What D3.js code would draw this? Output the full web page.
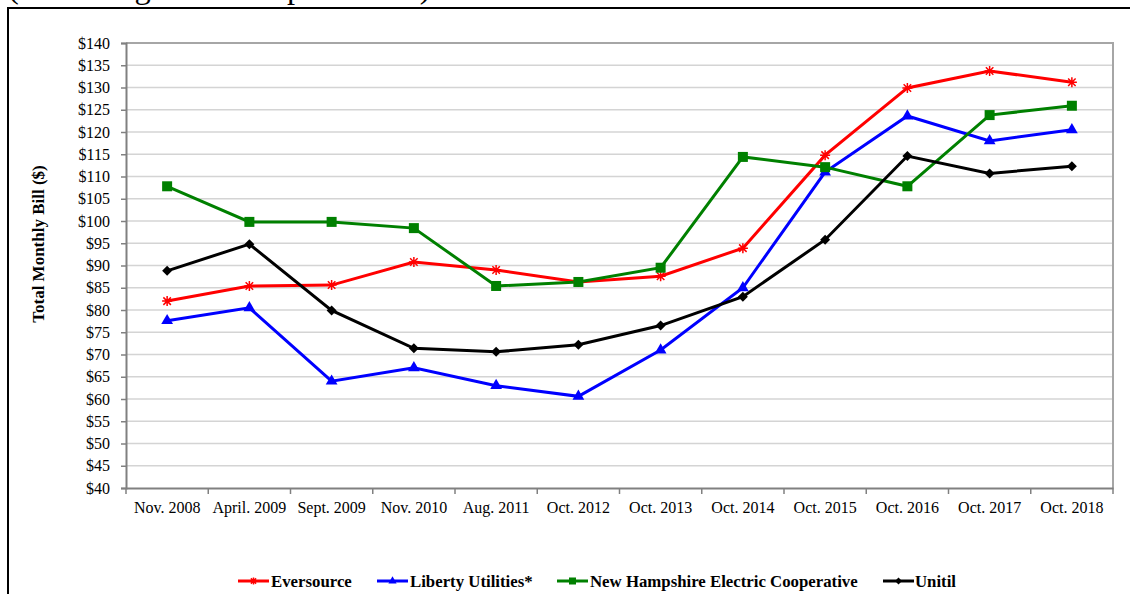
<!DOCTYPE html>
<html>
<head>
<meta charset="utf-8">
<script src="https://cdn.jsdelivr.net/npm/d3@7"></script>
<style>
  body { margin: 0; background: #fff; }
  svg { display: block; font-family: "Liberation Serif", "Times New Roman", serif; }
</style>
</head>
<body>
<div id="chart"></div>
<script>
const categories = ["Nov. 2008", "April. 2009", "Sept. 2009", "Nov. 2010", "Aug. 2011", "Oct. 2012",
  "Oct. 2013", "Oct. 2014", "Oct. 2015", "Oct. 2016", "Oct. 2017", "Oct. 2018"];

const eversource = [82.0, 85.4, 85.6, 90.8, 89.0, 86.3, 87.6, 93.9, 114.8, 129.9, 133.7, 131.2];
const liberty    = [77.6, 80.5, 64.0, 67.0, 63.0, 60.6, 71.0, 85.0, 111.0, 123.6, 118.0, 120.5];
const nhec       = [107.8, 99.8, 99.8, 98.4, 85.4, 86.3, 89.5, 114.4, 112.1, 107.8, 123.8, 125.9];
const unitil     = [88.8, 94.8, 79.9, 71.4, 70.6, 72.2, 76.5, 83.0, 95.8, 114.6, 110.7, 112.3];

const yTicks = d3.range(40, 141, 5);

const series = [
  {name: "Eversource", values: eversource, color: "#ff0000", marker: "star"},
  {name: "Liberty Utilities*", values: liberty, color: "#0000ff", marker: "triangle"},
  {name: "New Hampshire Electric Cooperative", values: nhec, color: "#008000", marker: "square"},
  {name: "Unitil", values: unitil, color: "#000000", marker: "diamond"}
];

const W = 1130, H = 594;
const plot = {left: 126, right: 1113, top: 43, bottom: 488};

const svg = d3.select("#chart").append("svg")
  .attr("width", W)
  .attr("height", H);

// outer frame and the heading, cut off at the top like the source
svg.append("text")
  .attr("x", 8)
  .attr("y", -2)
  .attr("font-size", 32.5)
  .text("(Assuming 600 kWh per month)");

svg.append("rect")
  .attr("x", 8).attr("y", 8)
  .attr("width", 1200).attr("height", 700)
  .attr("fill", "none")
  .attr("stroke", "#000")
  .attr("stroke-width", 2);

// scales
const x = d3.scaleBand()
  .domain(categories)
  .range([plot.left, plot.right])
  .padding(0);

const y = d3.scaleLinear()
  .domain([40, 140])
  .range([plot.bottom, plot.top]);

// gridlines
svg.append("g")
  .selectAll("line")
  .data(yTicks.filter(d => d > 40 && d < 140))
  .join("line")
  .attr("x1", plot.left).attr("x2", plot.right)
  .attr("y1", d => y(d)).attr("y2", d => y(d))
  .attr("stroke", "#d4d4d4")
  .attr("stroke-width", 1.5);

// plot border (top and right)
svg.append("path")
  .attr("d", `M${plot.left},${plot.top}H${plot.right}V${plot.bottom}`)
  .attr("fill", "none")
  .attr("stroke", "#a6a6a6")
  .attr("stroke-width", 2);

// y axis
const yAxis = svg.append("g")
  .attr("transform", `translate(${plot.left},0)`)
  .call(d3.axisLeft(y).tickValues(yTicks).tickFormat(d => "$" + d).tickSize(5).tickPadding(11));
yAxis.select(".domain").attr("stroke", "#808080").attr("stroke-width", 2);
yAxis.selectAll(".tick line").attr("stroke", "#808080").attr("stroke-width", 1.5);
yAxis.selectAll("text").attr("font-size", 16).attr("fill", "#000")
  .attr("font-family", "Liberation Serif, Times New Roman, serif");

// x axis
const xAxis = svg.append("g")
  .attr("transform", `translate(0,${plot.bottom})`)
  .call(d3.axisBottom(x).tickSize(0).tickPadding(14));
xAxis.select(".domain").attr("stroke", "#808080").attr("stroke-width", 2);
xAxis.selectAll("text").attr("font-size", 16).attr("fill", "#000")
  .attr("font-family", "Liberation Serif, Times New Roman, serif");

// x ticks sit on the band edges
xAxis.selectAll(".edge")
  .data(categories.map(c => x(c)).concat([x.range()[1]]))
  .join("line")
  .attr("class", "edge")
  .attr("x1", d => d).attr("x2", d => d)
  .attr("y1", 0).attr("y2", 6)
  .attr("stroke", "#808080")
  .attr("stroke-width", 1.5);

// y axis title
svg.append("text")
  .attr("transform", "translate(44,244) rotate(-90)")
  .attr("text-anchor", "middle")
  .attr("font-size", 17)
  .attr("font-weight", "bold")
  .text("Total Monthly Bill ($)");

// markers
function drawMarker(g, type, color, s) {
  if (type === "star") {
    const r = s / 2;
    g.append("path")
      .attr("d", `M${-r},0H${r}M0,${-r}V${r}M${-r * 0.75},${-r * 0.75}L${r * 0.75},${r * 0.75}M${-r * 0.75},${r * 0.75}L${r * 0.75},${-r * 0.75}`)
      .attr("stroke", color).attr("stroke-width", 1.5).attr("fill", "none");
  } else if (type === "triangle") {
    g.append("path").attr("d", d3.symbol(d3.symbolTriangle, s * s * 0.6)).attr("fill", color);
  } else if (type === "square") {
    g.append("rect").attr("x", -s / 2).attr("y", -s / 2).attr("width", s).attr("height", s).attr("fill", color);
  } else if (type === "diamond") {
    const r = s / 2;
    g.append("path").attr("d", `M0,${-r}L${r},0L0,${r}L${-r},0Z`).attr("fill", color);
  }
}

const line = d3.line()
  .x((d, i) => x(categories[i]) + x.bandwidth() / 2)
  .y(d => y(d));

series.forEach(s => {
  svg.append("path")
    .datum(s.values)
    .attr("d", line)
    .attr("fill", "none")
    .attr("stroke", s.color)
    .attr("stroke-width", 3);
});

series.forEach(s => {
  s.values.forEach((v, i) => {
    const g = svg.append("g")
      .attr("transform", `translate(${x(categories[i]) + x.bandwidth() / 2},${y(v)})`);
    drawMarker(g, s.marker, s.color, 10);
  });
});

// legend
const legendItems = [
  {lx: 238, tx: 271},
  {lx: 377, tx: 410},
  {lx: 557, tx: 590},
  {lx: 883, tx: 915}
];
const legendY = 581;
series.forEach((s, i) => {
  const it = legendItems[i];
  svg.append("line")
    .attr("x1", it.lx).attr("x2", it.lx + 31)
    .attr("y1", legendY).attr("y2", legendY)
    .attr("stroke", s.color).attr("stroke-width", 3);
  const g = svg.append("g").attr("transform", `translate(${it.lx + 15.5},${legendY})`);
  drawMarker(g, s.marker, s.color, 7);
  svg.append("text")
    .attr("x", it.tx)
    .attr("y", legendY + 6)
    .attr("font-size", 16.8)
    .attr("font-weight", "bold")
    .text(s.name);
});
</script>
</body>
</html>
